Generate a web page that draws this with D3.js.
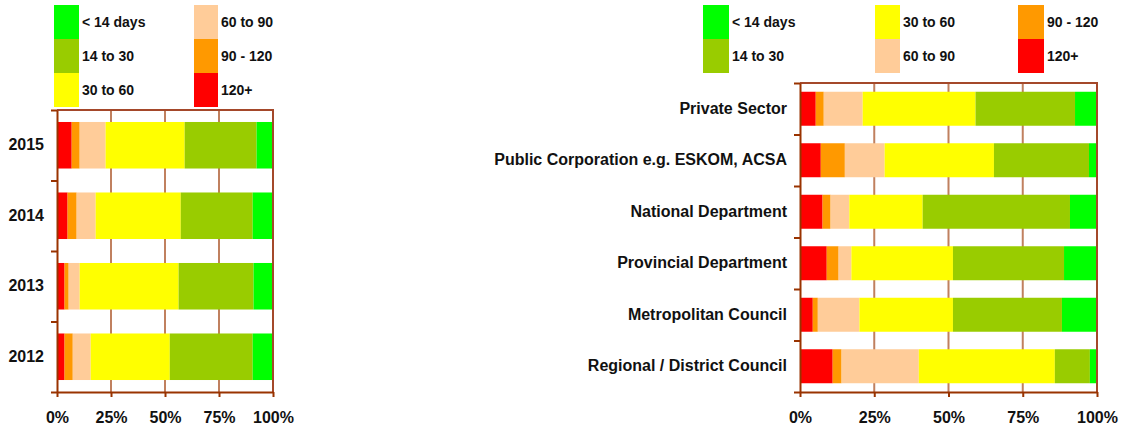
<!DOCTYPE HTML>
<html lang="en">
  <head>
    <meta http-equiv="content-type" content="text/html; charset=utf-8"/>
    <title>Days to pay</title>
    <script type="text/javascript" src="https://d3js.org/d3.v7.min.js"></script>
    <style type="text/css">
      body { margin: 0; background: #fff; }
      svg text {
        font-family: "Liberation Sans", Arial, sans-serif;
        font-weight: bold;
        fill: #111;
      }
      .legend text { font-size: 14px; }
      .axis text { font-size: 16px; }
      .cats text { font-size: 16px; }
      .axis path, .axis line { stroke: #993300; stroke-width: 2px; }
      .grid { stroke: #c0805f; stroke-width: 2px; }
    </style>
  </head>
  <body>
    <script>
      // ---- data -------------------------------------------------------
      var buckets = ["< 14 days", "14 to 30", "30 to 60", "60 to 90", "90 - 120", "120+"];
      var colours = ["#00ff00", "#99cc00", "#ffff00", "#ffcc99", "#ff9900", "#ff0000"];
      var xTicks = [0, 25, 50, 75, 100];

      // left chart: share of invoices per bucket (same order as buckets)
      var years = ["2015", "2014", "2013", "2012"];
      var y2015 = [7.6, 33.3, 36.6, 12.0, 3.7, 6.8];
      var y2014 = [9.4, 33.3, 39.4, 8.8, 4.2, 4.9];
      var y2013 = [9.0, 34.7, 45.8, 5.1, 1.9, 3.5];
      var y2012 = [9.4, 38.4, 36.6, 8.3, 3.8, 3.5];

      // right chart
      var sectors = ["Private Sector", "Public Corporation e.g. ESKOM, ACSA", "National Department",
                     "Provincial Department", "Metropolitan Council", "Regional / District Council"];
      var privateSector = [7.4, 33.5, 38.0, 13.1, 2.7, 5.3];
      var publicCorp    = [2.7, 32.0, 36.8, 13.4, 8.1, 7.0];
      var nationalDept  = [9.1, 49.6, 24.7, 6.3, 2.7, 7.6];
      var provDept      = [11.1, 37.4, 34.2, 4.3, 4.0, 9.0];
      var metroCouncil  = [11.8, 36.7, 31.5, 14.0, 1.7, 4.3];
      var regionalCouncil = [2.4, 11.8, 45.8, 26.0, 3.0, 11.0];

      var svg = d3.select("body").append("svg")
        .attr("width", 1127)
        .attr("height", 430);

      function toRows(cats, rows) {
        return cats.map(function(c, i) {
          var r = { cat: c };
          buckets.forEach(function(b, j) { r[b] = rows[i][j]; });
          return r;
        });
      }

      function drawChart(cats, rows, box) {
        var data = toRows(cats, rows);
        var g = svg.append("g");

        var x = d3.scaleLinear().domain([0, 100]).range([box.left, box.right]);
        var y = d3.scaleBand().domain(cats).range([box.top, box.bottom])
          .paddingInner(0.34).paddingOuter(0.17);
        var yEdge = d3.scaleLinear().domain([0, cats.length]).range([box.top, box.bottom]);
        var colour = d3.scaleOrdinal().domain(buckets).range(colours);

        // gridlines
        g.selectAll(".grid")
            .data(xTicks.slice(1))
          .enter().append("line")
            .attr("class", "grid")
            .attr("x1", function(d) { return x(d); })
            .attr("x2", function(d) { return x(d); })
            .attr("y1", box.top)
            .attr("y2", box.bottom);

        // stacked bars, 120+ on the left
        var stack = d3.stack().keys(buckets.slice().reverse());
        g.selectAll(".series")
            .data(stack(data))
          .enter().append("g")
            .attr("fill", function(d) { return colour(d.key); })
          .selectAll("rect")
            .data(function(d) { return d; })
          .enter().append("rect")
            .attr("x", function(d) { return x(d[0]); })
            .attr("width", function(d) { return x(d[1]) - x(d[0]); })
            .attr("y", function(d) { return y(d.data.cat); })
            .attr("height", y.bandwidth());

        // top / right border
        g.append("path")
          .attr("d", "M" + box.left + "," + box.top + "H" + box.right + "V" + box.bottom)
          .attr("fill", "none")
          .attr("stroke", "#a4482a")
          .attr("stroke-width", 2);

        g.append("g")
          .attr("class", "axis")
          .attr("transform", "translate(" + box.left + ",0)")
          .call(d3.axisLeft(yEdge).tickValues(d3.range(cats.length + 1)).tickFormat("").tickSize(6).tickSizeOuter(0));

        g.append("g")
          .attr("class", "cats")
          .attr("transform", "translate(" + (box.left - 13) + ",0)")
          .call(d3.axisLeft(y).tickSize(0).tickPadding(0))
          .call(function(a) { a.select(".domain").remove(); });

        g.append("g")
          .attr("class", "axis")
          .attr("transform", "translate(0," + box.bottom + ")")
          .call(d3.axisBottom(x).tickValues(xTicks).tickFormat(function(d) { return d + "%"; })
            .tickSize(5).tickSizeOuter(0).tickPadding(15));
      }

      function drawLegend(items) {
        var lg = svg.append("g").attr("class", "legend");
        var it = lg.selectAll("g")
            .data(items)
          .enter().append("g")
            .attr("transform", function(d) { return "translate(" + d.x + "," + d.y + ")"; });
        it.append("rect")
          .attr("width", function(d) { return d.w; })
          .attr("height", 34)
          .attr("fill", function(d) { return colours[d.i]; });
        it.append("text")
          .attr("x", function(d) { return d.w + 3; })
          .attr("y", 17)
          .attr("dy", "0.35em")
          .text(function(d) { return buckets[d.i]; });
      }

      drawChart(years, [y2015, y2014, y2013, y2012],
        { left: 57, right: 273, top: 110, bottom: 392 });
      drawChart(sectors, [privateSector, publicCorp, nationalDept, provDept, metroCouncil, regionalCouncil],
        { left: 800, right: 1097, top: 83, bottom: 392 });

      drawLegend([
        { i: 0, x: 54, y: 5, w: 25 }, { i: 1, x: 54, y: 39, w: 25 }, { i: 2, x: 54, y: 73, w: 25 },
        { i: 3, x: 194, y: 5, w: 24 }, { i: 4, x: 194, y: 39, w: 24 }, { i: 5, x: 194, y: 73, w: 24 }
      ]);
      drawLegend([
        { i: 0, x: 703, y: 5, w: 26 }, { i: 1, x: 703, y: 39, w: 26 },
        { i: 2, x: 875, y: 5, w: 25 }, { i: 3, x: 875, y: 39, w: 25 },
        { i: 4, x: 1018, y: 5, w: 26 }, { i: 5, x: 1018, y: 39, w: 26 }
      ]);
    </script>
  </body>
</html>
